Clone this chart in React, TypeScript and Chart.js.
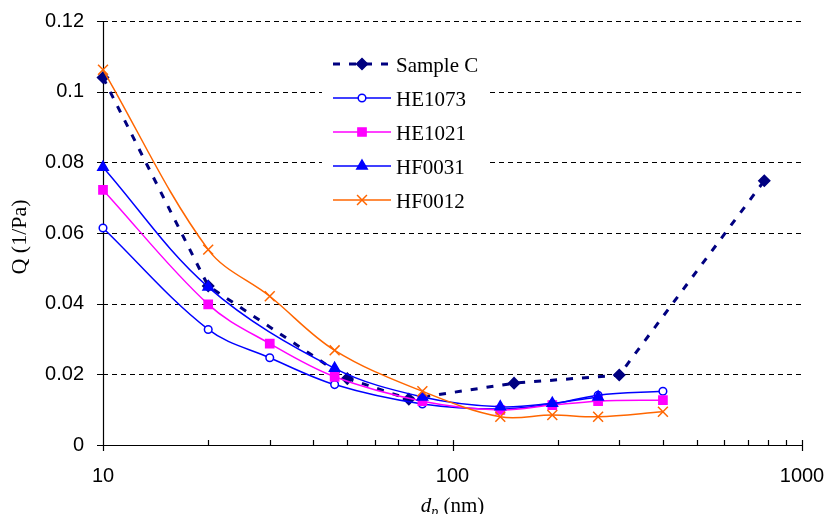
import React, { useEffect, useRef } from 'react';
import { Chart, registerables } from 'chart.js';

Chart.register(...registerables);

// ---- data ----
const sampleCX = [10, 20, 50, 75, 150, 300, 780];
const sampleCY = [0.104, 0.045, 0.0188, 0.013, 0.0175, 0.0198, 0.0748];

const heX = [10, 20, 30, 46, 82, 137, 193, 261, 400];
const he1073Y = [0.0614, 0.0327, 0.0247, 0.0171, 0.0116, 0.0102, 0.0116, 0.0141, 0.0152];
const he1021Y = [0.0722, 0.0398, 0.0287, 0.0193, 0.0124, 0.0099, 0.0113, 0.0124, 0.0127];

const hf0031X = [10, 20, 46, 82, 137, 193, 261];
const hf0031Y = [0.0786, 0.0447, 0.0217, 0.0136, 0.0108, 0.0118, 0.0136];

const hf0012X = [10, 20, 30, 46, 82, 137, 193, 261, 400];
const hf0012Y = [0.1062, 0.0553, 0.0421, 0.0268, 0.0152, 0.008, 0.0085, 0.008, 0.0094];

const seriesNames = ['Sample C', 'HE1073', 'HE1021', 'HF0031', 'HF0012'];
const xTickValues = [10, 100, 1000];
const xMinorTicks = [20, 30, 40, 50, 60, 70, 80, 90, 200, 300, 400, 500, 600, 700, 800, 900];
const yTickValues = [0, 0.02, 0.04, 0.06, 0.08, 0.1, 0.12];
const xTitle = { main: 'd', sub: 'p', rest: ' (nm)' };
const yTitle = 'Q (1/Pa)';

const SANS = "Arial, 'Liberation Sans', sans-serif";
const SERIF = "'Times New Roman', 'Liberation Serif', serif";

const pts = (xs: number[], ys: number[]) => xs.map((x, i) => ({ x, y: ys[i] }));

type Marker = {
  style: string;
  r: number;
  color: string;
  fill: string;
  dash: number[];
  width: number;
};

const markers: Marker[] = [
  { style: 'rectRot', r: 5.5, color: '#000080', fill: '#000080', dash: [7, 9], width: 3 },
  { style: 'circle', r: 3.8, color: '#0000FF', fill: '#FFFFFF', dash: [], width: 1.5 },
  { style: 'rect', r: 5.8, color: '#FF00FF', fill: '#FF00FF', dash: [], width: 1.5 },
  { style: 'triangle', r: 6, color: '#0000FF', fill: '#0000FF', dash: [], width: 1.5 },
  { style: 'crossRot', r: 7, color: '#FF6600', fill: '#FF6600', dash: [], width: 1.5 },
];

function drawMarker(ctx: CanvasRenderingContext2D, m: Marker, x: number, y: number) {
  ctx.save();
  ctx.setLineDash([]);
  ctx.strokeStyle = m.color;
  ctx.fillStyle = m.fill;
  ctx.lineWidth = 1.5;
  ctx.beginPath();
  const r = m.r;
  if (m.style === 'rectRot') {
    ctx.moveTo(x, y - r);
    ctx.lineTo(x + r, y);
    ctx.lineTo(x, y + r);
    ctx.lineTo(x - r, y);
    ctx.closePath();
    ctx.fill();
    ctx.stroke();
  } else if (m.style === 'circle') {
    ctx.arc(x, y, r, 0, Math.PI * 2);
    ctx.fill();
    ctx.stroke();
  } else if (m.style === 'rect') {
    const s = r * Math.SQRT1_2;
    ctx.rect(x - s, y - s, 2 * s, 2 * s);
    ctx.fill();
    ctx.stroke();
  } else if (m.style === 'triangle') {
    ctx.moveTo(x, y - r);
    ctx.lineTo(x + r * 0.866, y + r / 2);
    ctx.lineTo(x - r * 0.866, y + r / 2);
    ctx.closePath();
    ctx.fill();
    ctx.stroke();
  } else if (m.style === 'crossRot') {
    const s = r * Math.SQRT1_2;
    ctx.moveTo(x - s, y - s);
    ctx.lineTo(x + s, y + s);
    ctx.moveTo(x + s, y - s);
    ctx.lineTo(x - s, y + s);
    ctx.stroke();
  }
  ctx.restore();
}

const decorPlugin = {
  id: 'decor',
  beforeDatasetsDraw(chart: any) {
    const { ctx, chartArea, scales } = chart;
    const { left, right, top, bottom } = chartArea;
    const ys = scales.y;
    const xs = scales.x;
    ctx.save();
    // dashed horizontal gridlines
    ctx.strokeStyle = '#000';
    ctx.lineWidth = 1;
    ctx.setLineDash([5, 4]);
    for (const t of yTickValues) {
      if (t === 0) continue;
      const py = Math.round(ys.getPixelForValue(t)) + 0.5;
      ctx.beginPath();
      ctx.moveTo(left, py);
      ctx.lineTo(right, py);
      ctx.stroke();
    }
    ctx.setLineDash([]);
    // legend white box
    ctx.fillStyle = '#FFFFFF';
    ctx.fillRect(322, 45, 164, 177);
    // axes
    ctx.strokeStyle = '#000';
    ctx.lineWidth = 1.2;
    const ax = Math.round(left) + 0.5;
    const ay = Math.round(bottom) + 0.5;
    ctx.beginPath();
    ctx.moveTo(ax, top);
    ctx.lineTo(ax, bottom + 6);
    ctx.moveTo(left - 6, ay);
    ctx.lineTo(right, ay);
    // y ticks
    for (const t of yTickValues) {
      const py = Math.round(ys.getPixelForValue(t)) + 0.5;
      ctx.moveTo(left - 6, py);
      ctx.lineTo(ax, py);
    }
    // x major ticks
    for (const v of xTickValues) {
      const px = Math.round(xs.getPixelForValue(v)) + 0.5;
      ctx.moveTo(px, bottom - 5);
      ctx.lineTo(px, bottom + 6);
    }
    // x minor ticks
    for (const v of xMinorTicks) {
      const px = Math.round(xs.getPixelForValue(v)) + 0.5;
      ctx.moveTo(px, bottom - 5);
      ctx.lineTo(px, bottom);
    }
    ctx.stroke();
    ctx.restore();
  },
  afterDraw(chart: any) {
    const { ctx, chartArea } = chart;
    const { left, right, top, bottom } = chartArea;
    ctx.save();
    // legend
    for (let i = 0; i < seriesNames.length; i++) {
      const m = markers[i];
      const ly = 64 + 34 * i;
      ctx.save();
      ctx.strokeStyle = m.color;
      ctx.lineWidth = m.width;
      ctx.setLineDash(m.dash);
      ctx.beginPath();
      ctx.moveTo(333, ly);
      ctx.lineTo(391, ly);
      ctx.stroke();
      ctx.restore();
      drawMarker(ctx, m, 362, ly);
      ctx.fillStyle = '#000';
      ctx.font = `21px ${SERIF}`;
      ctx.textAlign = 'left';
      ctx.textBaseline = 'alphabetic';
      ctx.fillText(seriesNames[i], 396, ly + 7.5);
    }
    // x title
    ctx.fillStyle = '#000';
    ctx.textBaseline = 'alphabetic';
    ctx.textAlign = 'left';
    const fMain = `italic 21px ${SERIF}`;
    const fSub = `italic 14px ${SERIF}`;
    const fRest = `21px ${SERIF}`;
    ctx.font = fMain;
    const w1 = ctx.measureText(xTitle.main).width;
    ctx.font = fSub;
    const w2 = ctx.measureText(xTitle.sub).width;
    ctx.font = fRest;
    const w3 = ctx.measureText(xTitle.rest).width;
    const total = w1 + w2 + w3;
    let x0 = (left + right) / 2 - total / 2;
    const base = 511.5;
    ctx.font = fMain;
    ctx.fillText(xTitle.main, x0, base);
    x0 += w1;
    ctx.font = fSub;
    ctx.fillText(xTitle.sub, x0, base + 4);
    x0 += w2;
    ctx.font = fRest;
    ctx.fillText(xTitle.rest, x0, base);
    // y title
    ctx.save();
    ctx.translate(20, (top + bottom) / 2 + 4);
    ctx.rotate(-Math.PI / 2);
    ctx.font = `22px ${SERIF}`;
    ctx.textAlign = 'center';
    ctx.textBaseline = 'middle';
    ctx.fillText(yTitle, 0, 0);
    ctx.restore();
    ctx.restore();
  },
};

export default function App() {
  const canvasRef = useRef<HTMLCanvasElement | null>(null);

  useEffect(() => {
    const canvas = canvasRef.current;
    if (!canvas) return;
    const mk = (label: string, data: any[], i: number, tension: number, order: number) => {
      const m = markers[i];
      return {
        label,
        data,
        borderColor: m.color,
        backgroundColor: m.fill,
        borderWidth: m.width,
        borderDash: m.dash,
        pointStyle: m.style,
        pointRadius: m.r,
        pointHoverRadius: m.r,
        pointBorderColor: m.color,
        pointBackgroundColor: m.fill,
        pointBorderWidth: 1.5,
        tension,
        fill: false,
        clip: false as any,
        order,
      };
    };
    const chart = new Chart(canvas, {
      type: 'line',
      data: {
        datasets: [
          mk(seriesNames[0], pts(sampleCX, sampleCY), 0, 0, 5),
          mk(seriesNames[1], pts(heX, he1073Y), 1, 0.35, 4),
          mk(seriesNames[2], pts(heX, he1021Y), 2, 0.35, 3),
          mk(seriesNames[3], pts(hf0031X, hf0031Y), 3, 0.35, 2),
          mk(seriesNames[4], pts(hf0012X, hf0012Y), 4, 0.35, 1),
        ] as any,
      },
      options: {
        animation: false,
        responsive: false,
        devicePixelRatio: 1,
        layout: { padding: { top: 21, right: 28, left: 0, bottom: 0 } },
        plugins: {
          legend: { display: false },
          tooltip: { enabled: false },
          title: { display: false },
        },
        scales: {
          x: {
            type: 'logarithmic',
            position: 'bottom',
            min: 10,
            max: 1000,
            afterBuildTicks: (s: any) => {
              s.ticks = xTickValues.map((v) => ({ value: v }));
            },
            afterFit: (s: any) => {
              s.height = 69;
              s.paddingLeft = 0;
              s.paddingRight = 0;
            },
            grid: { display: false },
            border: { display: false },
            ticks: {
              color: '#000',
              font: { family: SANS, size: 20 },
              padding: 11,
              maxRotation: 0,
              autoSkip: false,
              callback: (v: any) => String(v),
            },
          },
          y: {
            type: 'linear',
            min: 0,
            max: 0.12,
            afterBuildTicks: (s: any) => {
              s.ticks = yTickValues.map((v) => ({ value: v }));
            },
            afterFit: (s: any) => {
              s.width = 103;
              s.paddingTop = 0;
              s.paddingBottom = 0;
            },
            grid: { display: false },
            border: { display: false },
            ticks: {
              color: '#000',
              font: { family: SANS, size: 20 },
              padding: 11,
              callback: (v: any) => String(Number(Number(v).toFixed(2))),
            },
          },
        },
      } as any,
      plugins: [decorPlugin],
    });
    return () => chart.destroy();
  }, []);

  return (
    <div style={{ position: 'fixed', left: 0, top: 0, width: 830, height: 514, background: '#fff' }}>
      <canvas ref={canvasRef} width={830} height={514} style={{ display: 'block', width: 830, height: 514 }} />
    </div>
  );
}
